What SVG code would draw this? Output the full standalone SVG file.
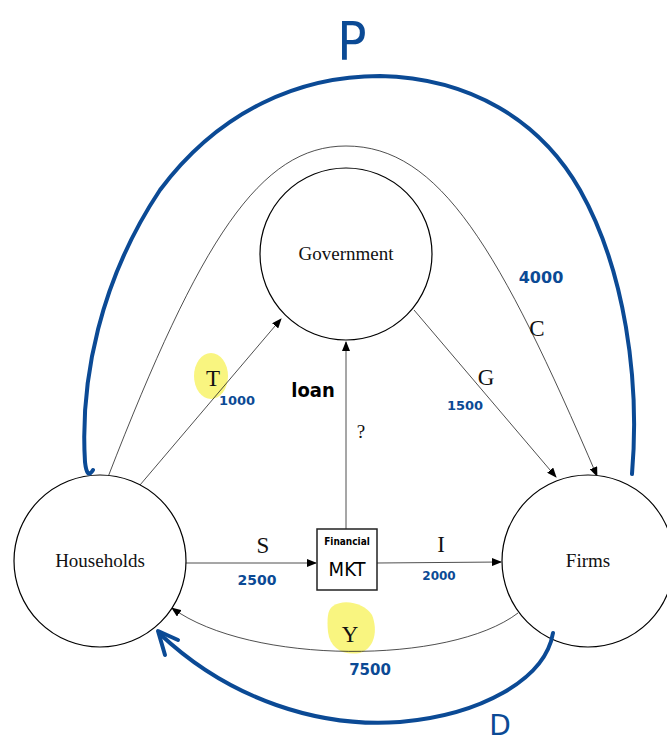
<svg xmlns="http://www.w3.org/2000/svg" width="667" height="742" viewBox="0 0 667 742">
<style>
.node{fill:#fff;stroke:#000;stroke-width:1.2}
.lab{font-family:"Liberation Serif",serif;font-size:19px;fill:#111;text-anchor:middle}
.big{font-family:"Liberation Serif",serif;font-size:23px;fill:#111;text-anchor:middle}
.con{fill:none;stroke:#222;stroke-width:0.8}
.hand{font-family:"DejaVu Sans",sans-serif;font-weight:bold;fill:#0b4a95;text-anchor:middle}
.blue{fill:none;stroke:#0b4a95;stroke-width:4;stroke-linecap:round;stroke-linejoin:round}
.hl{fill:#f8f36a;opacity:0.85}
</style>
<defs>
<marker id="ah" markerWidth="10" markerHeight="8" refX="9" refY="4" orient="auto" markerUnits="userSpaceOnUse">
<path d="M0,0 L10,4 L0,8 z" fill="#000"/>
</marker>
</defs>
<rect width="667" height="742" fill="#fff"/>
<g id="highlights">
<ellipse class="hl" cx="211" cy="376" rx="17" ry="23"/>
<path class="hl" d="M333,606 C345,598 365,604 372,615 C378,630 375,648 360,653 C343,656 330,648 328,632 C327,620 327,610 333,606 z"/>
</g>
<g id="connectors">
<path class="con" d="M140,485 L281,319" marker-end="url(#ah)"/>
<path class="con" d="M414,310 L556,477" marker-end="url(#ah)"/>
<path class="con" d="M346,529 L346,342" marker-end="url(#ah)"/>
<path class="con" d="M186,563 L316,563" marker-end="url(#ah)"/>
<path class="con" d="M377,563 L501,562" marker-end="url(#ah)"/>
<path class="con" d="M108,477 C200,240 260,146 346,146 C440,146 500,250 597,476" marker-end="url(#ah)"/>
<path class="con" d="M518,613 C450,665 250,665 172,608" marker-end="url(#ah)"/>
</g>
<g id="government">
<circle class="node" cx="346" cy="254" r="86"/>
<text class="lab" x="346" y="260">Government</text>
</g>
<g id="households">
<circle class="node" cx="100" cy="561" r="86"/>
<text class="lab" x="100" y="567">Households</text>
</g>
<g id="firms">
<circle class="node" cx="588" cy="561" r="86"/>
<text class="lab" x="588" y="567">Firms</text>
</g>
<g id="financial-mkt">
<rect x="317" y="529" width="60" height="61" fill="#fff" stroke="#222" stroke-width="1.5"/>
<text x="347" y="545" font-family="DejaVu Sans Condensed,DejaVu Sans,sans-serif" font-size="10" font-weight="bold" text-anchor="middle" fill="#000">Financial</text>
<text x="347" y="576" font-family="DejaVu Sans Condensed,DejaVu Sans,sans-serif" font-size="20" text-anchor="middle" fill="#000">MKT</text>
</g>
<g id="labels">
<text class="big" x="213" y="386">T</text>
<text class="big" x="486" y="385">G</text>
<text class="big" x="537" y="336">C</text>
<text class="big" x="263" y="553">S</text>
<text class="big" x="441" y="552">I</text>
<text class="big" x="350" y="642">Y</text>
<text class="lab" x="361" y="438">?</text>
<text x="313" y="397" font-family="DejaVu Sans Condensed,DejaVu Sans,sans-serif" font-size="20" font-weight="bold" text-anchor="middle" fill="#000">loan</text>
</g>
<g id="handwritten">
<text class="hand" x="541" y="283" font-size="16">4000</text>
<text class="hand" x="237" y="405" font-size="13">1000</text>
<text class="hand" x="465" y="410" font-size="13">1500</text>
<text class="hand" x="257" y="585" font-size="14">2500</text>
<text class="hand" x="439" y="580" font-size="12">2000</text>
<text class="hand" x="370" y="675" font-size="15">7500</text>
<text x="352" y="60" font-family="DejaVu Sans Condensed,DejaVu Sans,sans-serif" font-size="54" fill="#0b4a95" text-anchor="middle">P</text>
<text x="500" y="735" font-family="DejaVu Sans,sans-serif" font-size="28" fill="#0b4a95" text-anchor="middle">D</text>
</g>
<g id="loops">
<path class="blue" d="M93,470 Q87,480 85,462 C80,380 100,280 160,190 C220,110 300,76 380,76 C470,78 540,120 580,190 C625,270 640,380 632,474"/>
<path class="blue" d="M553,633 C545,680 480,715 400,722 C320,728 230,700 160,634"/>
<path class="blue" d="M178,640 L158,631 L165,655"/>
</g>
</svg>
